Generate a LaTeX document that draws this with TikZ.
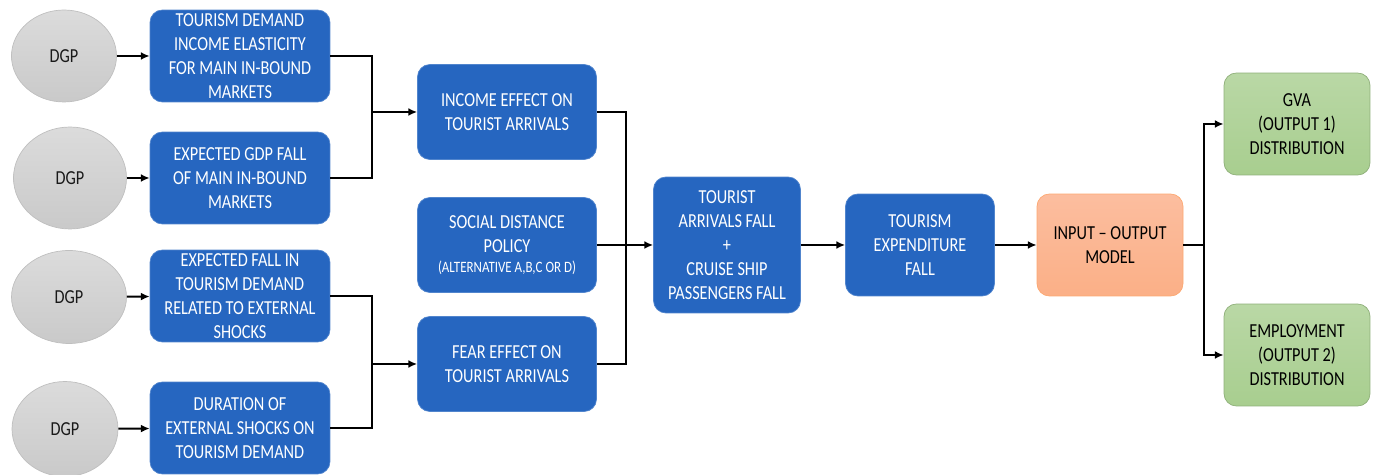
\documentclass[tikz,border=0pt]{standalone}
\usepackage{fontspec}
\setmainfont{Carlito}[FakeStretch=0.82]
\usetikzlibrary{arrows.meta, shapes.geometric}
\definecolor{boxblue}{RGB}{38,102,192}
\definecolor{ioorange}{RGB}{251,178,142}
\definecolor{outgreen}{RGB}{168,206,143}
\begin{document}
\begin{tikzpicture}[x=0.02cm, y=-0.02cm,
        >={Latex[length=5pt,width=4.5pt]},
        node font=\fontsize{11.3}{13.6}\selectfont,
        box/.style={rounded corners=7pt, align=center, inner sep=2pt},
        bluebox/.style={box, fill=boxblue, draw=boxblue!80!white, text=white},
        dgp/.style={ellipse, draw=gray!50, top color=gray!28, bottom color=gray!42, inner sep=0pt, text=black!90},
        arr/.style={->, line width=1.1pt},
        link/.style={line width=1.1pt},
    ]
    \useasboundingbox (0,0) rectangle (1375,475);
    % Data generating processes
    \node[dgp, minimum width=2.1cm, minimum height=1.84cm] (dgpa) at (64,56) {DGP};
    \node[dgp, minimum width=2.26cm, minimum height=2.04cm] (dgpb) at (70,178) {DGP};
    \node[dgp, minimum width=2.3cm, minimum height=1.86cm] (dgpc) at (69,297) {DGP};
    \node[dgp, minimum width=2.12cm, minimum height=1.9cm] (dgpd) at (65,429) {DGP};
    % First column
    \node[bluebox, minimum width=3.6cm, minimum height=1.84cm] (elast) at (240,56)
        {TOURISM DEMAND\\INCOME ELASTICITY\\FOR MAIN IN-BOUND\\MARKETS};
    \node[bluebox, minimum width=3.6cm, minimum height=1.84cm] (gdp) at (240,178)
        {EXPECTED GDP FALL\\OF MAIN IN-BOUND\\MARKETS};
    \node[bluebox, minimum width=3.6cm, minimum height=1.84cm] (shock) at (240,296)
        {EXPECTED FALL IN\\TOURISM DEMAND\\RELATED TO EXTERNAL\\SHOCKS};
    \node[bluebox, minimum width=3.6cm, minimum height=1.84cm] (durat) at (240,428)
        {DURATION OF\\EXTERNAL SHOCKS ON\\TOURISM DEMAND};
    \draw[arr] (dgpa) -- (elast);
    \draw[arr] (dgpb) -- (gdp);
    \draw[arr] (dgpc) -- (shock);
    \draw[arr] (dgpd) -- (durat);
    % Second column
    \node[bluebox, minimum width=3.58cm, minimum height=1.9cm] (income) at (507,112)
        {INCOME EFFECT ON\\TOURIST ARRIVALS};
    \node[bluebox, minimum width=3.58cm, minimum height=1.9cm] (social) at (507,245)
        {SOCIAL DISTANCE\\POLICY\\[-2pt]{\fontsize{9}{11}\selectfont(ALTERNATIVE A,B,C OR D)}};
    \node[bluebox, minimum width=3.58cm, minimum height=1.9cm] (fear) at (507,364)
        {FEAR EFFECT ON\\TOURIST ARRIVALS};
    \coordinate (jin) at (372,112);
    \coordinate (jfear) at (372,364);
    \draw[link] (elast.east) -| (jin);
    \draw[link] (gdp.east) -| (jin);
    \draw[arr] (jin) -- (income.west);
    \draw[link] (shock.east) -| (jfear);
    \draw[link] (durat.east) -| (jfear);
    \draw[arr] (jfear) -- (fear.west);
    % Arrivals and expenditure
    \node[bluebox, minimum width=2.94cm, minimum height=2.72cm] (arriv) at (727,245)
        {TOURIST\\ARRIVALS FALL\\+\\CRUISE SHIP\\PASSENGERS FALL};
    \node[bluebox, minimum width=2.98cm, minimum height=2.04cm] (expend) at (920,245)
        {TOURISM\\EXPENDITURE\\FALL};
    \coordinate (jmid) at (626,245);
    \draw[link] (income.east) -| (jmid);
    \draw[link] (fear.east) -| (jmid);
    \draw[arr] (social.east) -- (arriv.west);
    \draw[arr] (arriv) -- (expend);
    % Model and outputs
    \node[box, minimum width=2.92cm, minimum height=2.04cm, top color=ioorange!85!white, bottom color=ioorange!95!orange, draw=ioorange!80!orange] (iomod) at (1110,245)
        {INPUT -- OUTPUT\\MODEL};
    \node[box, minimum width=2.92cm, minimum height=2.04cm, top color=outgreen!80!white, bottom color=outgreen, draw=outgreen!85!black] (gva) at (1297,124)
        {GVA\\(OUTPUT 1)\\DISTRIBUTION};
    \node[box, minimum width=2.92cm, minimum height=2.04cm, top color=outgreen!80!white, bottom color=outgreen, draw=outgreen!85!black] (emp) at (1297,355)
        {EMPLOYMENT\\(OUTPUT 2)\\DISTRIBUTION};
    \coordinate (jout) at (1204,245);
    \draw[arr] (expend) -- (iomod);
    \draw[link] (iomod.east) -- (jout);
    \draw[arr] (jout) |- (gva.west);
    \draw[arr] (jout) |- (emp.west);
\end{tikzpicture}
\end{document}
